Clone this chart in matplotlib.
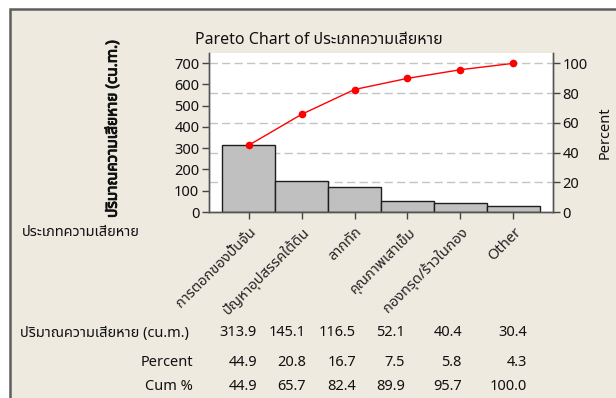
import matplotlib
matplotlib.use('Agg')
import matplotlib.pyplot as plt
import matplotlib.patheffects as pe
from matplotlib import font_manager
from matplotlib.ft2font import FT2Font
from matplotlib.patches import Rectangle

categories = ['การตอกของปั้นจั่น', 'ปัญหาอุปสรรคใต้ดิน', 'ลากทัก',
              'คุณภาพเสาเข็ม', 'กองทรุด/ร้าวในกอง', 'Other']
amounts = [313.9, 145.1, 116.5, 52.1, 40.4, 30.4]
percents = [44.9, 20.8, 16.7, 7.5, 5.8, 4.3]
cum_percents = [44.9, 65.7, 82.4, 89.9, 95.7, 100.0]
amount_ticks = [0, 100, 200, 300, 400, 500, 600, 700]
percent_ticks = [0, 20, 40, 60, 80, 100]

title = 'Pareto Chart of ประเภทความเสียหาย'
y_label = 'ปริมาณความเสียหาย (cu.m.)'
x_label = 'ประเภทความเสียหาย'


# find an installed font that actually has Thai glyphs
def find_thai_font():
    preferred = ['Tahoma', 'Noto Sans Thai', 'Noto Sans Thai UI', 'Loma',
                 'Garuda', 'Sarabun', 'Leelawadee UI']
    found = []
    for f in font_manager.fontManager.ttflist:
        try:
            if 0x0E1B in FT2Font(f.fname).get_charmap():
                found.append(f.name)
        except Exception:
            pass
    for name in preferred:
        if name in found:
            return name
    return found[0] if found else 'DejaVu Sans'


thai = find_thai_font()
plt.rcParams['font.family'] = [thai, 'DejaVu Sans']

W, H = 616, 398
fig = plt.figure(figsize=(W / 100, H / 100), dpi=100)
fig.patch.set_facecolor('white')


def fx(px):
    return px / W


def fy(py):
    return 1 - py / H


# beige panel with dark frame on left/top
panel = Rectangle((fx(10), fy(H + 20)), 1.2, fy(9) - fy(H + 20),
                  transform=fig.transFigure, facecolor='#EEEAE0',
                  edgecolor='#5E5E5E', linewidth=1.8, zorder=-5)
fig.patches.append(panel)

ax = fig.add_axes([fx(209), fy(212), fx(553) - fx(209), fy(53) - fy(212)])
ax.set_facecolor('white')
total = sum(amounts)
top = 747
x = list(range(len(categories)))

# percent gridlines, drawn on the amount axis so they sit behind the bars
for p in percent_ticks[1:]:
    ax.axhline(p * total / 100, color='#C4C4C4', linestyle=(0, (6, 3)),
               linewidth=1, zorder=1)
ax.bar(x, amounts, width=1.0, color='#C0C0C0', edgecolor='#1E1E1E',
       linewidth=1.0, zorder=2)
ax.set_xlim(-0.75, len(categories) - 0.25)
ax.set_ylim(0, top)
ax.set_yticks(amount_ticks)
ax.set_xticks(x)
ax.set_xticklabels(categories, rotation=45, ha='right', va='top',
                   rotation_mode='anchor', fontsize=10.5, color='#222222')
ax.tick_params(axis='x', length=5, width=1, color='#444444', pad=4)
ax.tick_params(axis='y', length=5, width=1, color='#444444', labelsize=10.5,
               labelcolor='#111111', pad=2)

ax2 = ax.twinx()
ax2.set_ylim(0, top / total * 100)
ax2.set_yticks(percent_ticks)
ax2.tick_params(axis='y', length=5, width=1, color='#444444', labelsize=10.5,
                labelcolor='#111111', pad=2)
ax2.plot(x, cum_percents, color='#FF0000', linewidth=1, marker='o',
         markersize=4.5, zorder=3)

for a in (ax, ax2):
    for s in a.spines.values():
        s.set_color('#555555')
        s.set_linewidth(1)
    a.spines['top'].set_visible(False)

fig.text(fx(195), fy(40), title, fontsize=11.5, ha='left', va='center',
         color='#111111')
fig.text(fx(113), fy(129), y_label, rotation=90, fontsize=11,
         fontweight='bold', ha='center', va='center', color='#111111',
         path_effects=[pe.withStroke(linewidth=0.7, foreground='#111111')])
fig.text(fx(605), fy(133), 'Percent', rotation=90, fontsize=10.5,
         ha='center', va='center', color='#111111')
fig.text(fx(22), fy(232), x_label, fontsize=10.5, ha='left', va='center',
         color='#111111')

# summary table under the chart
col_right = [257, 306, 356, 405, 462, 527]
rows = [
    (y_label, amounts, 333, 'left'),
    ('Percent', percents, 363, 'right'),
    ('Cum %', cum_percents, 387, 'right'),
]
for label, vals, py, align in rows:
    lx = 20 if align == 'left' else 193
    fig.text(fx(lx), fy(py), label, fontsize=10.5, ha=align, va='center',
             color='#111111')
    for cx, v in zip(col_right, vals):
        fig.text(fx(cx), fy(py), f'{v:.1f}', fontsize=10.5, ha='right',
                 va='center', color='#111111')

fig.savefig('out.png', dpi=100, facecolor=fig.get_facecolor())
